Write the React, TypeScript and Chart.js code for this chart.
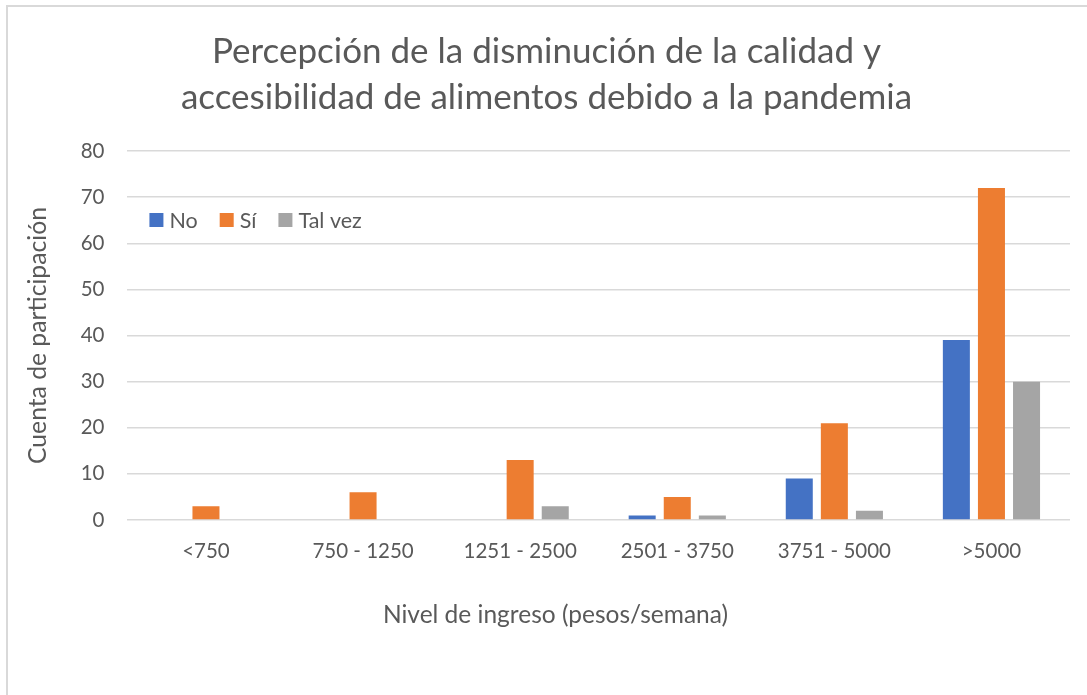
import React, { useEffect, useRef } from "react";
import { Chart, registerables } from "chart.js";

Chart.register(...registerables);

const categories = ["<750", "750 - 1250", "1251 - 2500", "2501 - 3750", "3751 - 5000", ">5000"];
const seriesNo = [0, 0, 0, 1, 9, 39];
const seriesSi = [3, 6, 13, 5, 21, 72];
const seriesTalVez = [0, 0, 3, 1, 2, 30];
const seriesNames = ["No", "Sí", "Tal vez"];
const seriesColors = ["#4472C4", "#ED7D31", "#A5A5A5"];
const titleLines = ["Percepción de la disminución de la calidad y", "accesibilidad de alimentos debido a la pandemia"];
const yTitle = "Cuenta de participación";
const xTitle = "Nivel de ingreso (pesos/semana)";

const FONT = "Lato, 'Open Sans', sans-serif";
const TEXT = "#595959";

const insideLegend = {
  id: "insideLegend",
  afterDraw(chart: any) {
    const ctx = chart.ctx;
    const area = chart.chartArea;
    ctx.save();
    ctx.font = `21.5px ${FONT}`;
    ctx.textBaseline = "middle";
    ctx.textAlign = "left";
    let x = area.left + 22;
    const y = area.top + 69;
    chart.data.datasets.forEach((ds: any) => {
      ctx.fillStyle = ds.backgroundColor;
      ctx.fillRect(x, y - 7, 14, 14);
      x += 20;
      ctx.fillStyle = TEXT;
      ctx.fillText(ds.label, x, y + 1);
      x += ctx.measureText(ds.label).width + 22;
    });
    // x axis title centred on the whole chart (space is reserved by the scale title)
    ctx.font = `24.5px ${FONT}`;
    ctx.textAlign = "center";
    ctx.fillStyle = TEXT;
    ctx.fillText(xTitle, chart.width / 2 + 12, chart.scales.x.bottom - 15);
    ctx.restore();
  },
};

export default function App() {
  const ref = useRef<HTMLCanvasElement>(null);
  useEffect(() => {
    if (!ref.current) return;
    const chart = new Chart(ref.current, {
      type: "bar",
      data: {
        labels: categories,
        datasets: [seriesNo, seriesSi, seriesTalVez].map((d, i) => ({
          label: seriesNames[i],
          data: d,
          backgroundColor: seriesColors[i],
          barPercentage: 0.77,
          categoryPercentage: 0.67,
        })),
      },
      options: {
        animation: false,
        responsive: false,
        maintainAspectRatio: false,
        layout: { padding: { left: 23, right: 17, top: 5, bottom: 65 } },
        plugins: {
          legend: { display: false },
          tooltip: { enabled: false },
          title: {
            display: true,
            text: titleLines,
            color: TEXT,
            font: { family: FONT, size: 35, weight: "normal" as any, lineHeight: 1.3 },
            padding: { top: 24, bottom: 31 },
          },
        },
        scales: {
          x: {
            grid: { display: false },
            border: { display: false },
            ticks: { color: TEXT, font: { family: FONT, size: 20.5 }, padding: 11 },
            title: {
              display: true,
              text: xTitle,
              color: "rgba(0,0,0,0)",
              font: { family: FONT, size: 24.5 },
              padding: { top: 26, bottom: 0 },
            },
          },
          y: {
            min: 0,
            max: 80,
            ticks: { stepSize: 10, color: TEXT, font: { family: FONT, size: 20.5 }, padding: 23 },
            grid: { color: "#D9D9D9", lineWidth: 1.5, drawTicks: false },
            border: { display: false },
            title: {
              display: true,
              text: yTitle,
              color: TEXT,
              font: { family: FONT, size: 24.7 },
              padding: { top: 0, bottom: 5 },
            },
          },
        },
      },
      plugins: [insideLegend],
    });
    return () => chart.destroy();
  }, []);

  return (
    <div style={{ position: "fixed", left: 0, top: 0, width: 1087, height: 695, overflow: "hidden", background: "#fff" }}>
      <div style={{ position: "absolute", left: 6, top: 5, width: 1200, height: 800, border: "2px solid #D9D9D9" }} />
      <canvas ref={ref} width={1087} height={695} style={{ position: "absolute", left: 0, top: 0 }} />
    </div>
  );
}
